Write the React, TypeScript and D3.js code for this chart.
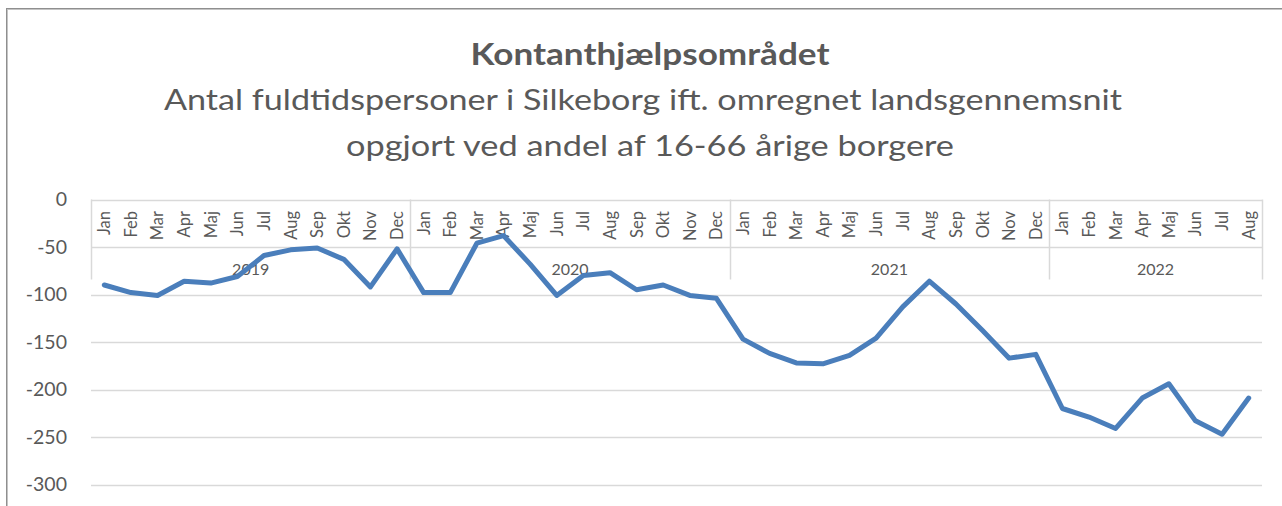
import React from "react";
import * as d3 from "d3";

const monthLabels = ["Jan", "Feb", "Mar", "Apr", "Maj", "Jun", "Jul", "Aug", "Sep", "Okt", "Nov", "Dec"];
const years = ["2019", "2020", "2021", "2022"];
const monthsPerYear = [12, 12, 12, 8];

const values2019 = [-90, -98, -101, -86, -88, -81, -59, -53, -51, -63, -92, -52];
const values2020 = [-98, -98, -46, -38, -68, -101, -80, -77, -95, -90, -101, -104];
const values2021 = [-147, -162, -172, -173, -164, -146, -113, -86, -110, -138, -167, -163];
const values2022 = [-220, -229, -241, -209, -194, -233, -247, -209];

const yTicks = [0, -50, -100, -150, -200, -250, -300];

const title = "Kontanthjælpsområdet";
const subtitle1 = "Antal fuldtidspersoner i Silkeborg ift. omregnet landsgennemsnit";
const subtitle2 = "opgjort ved andel af 16-66 årige borgere";

type Pt = { key: string; month: string; year: string; value: number };

const seriesByYear = [values2019, values2020, values2021, values2022];
const points: Pt[] = [];
years.forEach((yr, yi) => {
  for (let m = 0; m < monthsPerYear[yi]; m++) {
    points.push({ key: `${yr}-${m}`, month: monthLabels[m], year: yr, value: seriesByYear[yi][m] });
  }
});

const FONT = "Lato, 'Open Sans', 'Liberation Sans', sans-serif";
const TXT = "#595959";
const GRID = "#d9d9d9";

export default function App() {
  const W = 1282;
  const H = 506;
  const left = 91;
  const right = 1262;
  const top = 199.5;
  const bottom = 484.5;

  const x = d3
    .scaleBand<string>()
    .domain(points.map((p) => p.key))
    .range([left, right])
    .paddingInner(0)
    .paddingOuter(0);
  const y = d3.scaleLinear().domain([0, -300]).range([top, bottom]);

  const cx = (k: string) => (x(k) as number) + x.bandwidth() / 2;

  const line = d3
    .line<Pt>()
    .x((p) => cx(p.key))
    .y((p) => y(p.value));

  const boundaries: number[] = [];
  let idx = 0;
  const yearCenters: { year: string; c: number }[] = [];
  years.forEach((yr, yi) => {
    const startKey = points[idx].key;
    const endKey = points[idx + monthsPerYear[yi] - 1].key;
    const x0 = x(startKey) as number;
    const x1 = (x(endKey) as number) + x.bandwidth();
    boundaries.push(x0);
    if (yi === years.length - 1) boundaries.push(x1);
    yearCenters.push({ year: yr, c: (x0 + x1) / 2 });
    idx += monthsPerYear[yi];
  });

  const axisBottom = 279.5;
  const monthTop = 211;

  return (
    <svg
      width={W}
      height={H}
      style={{ position: "absolute", left: 0, top: 0, background: "#fff" }}
      fontFamily={FONT}
    >
      {/* frame */}
      <line x1={6} x2={W} y1={8.5} y2={8.5} stroke="#8f8f8f" strokeWidth={1} />
      <line x1={6} x2={W} y1={9.5} y2={9.5} stroke="#c4c4c4" strokeWidth={1} />
      <line x1={6.5} x2={6.5} y1={8} y2={H} stroke="#8f8f8f" strokeWidth={1} />
      <line x1={7.5} x2={7.5} y1={9} y2={H} stroke="#c4c4c4" strokeWidth={1} />

      {/* titles */}
      <text x={650} y={65} textAnchor="middle" fontSize={30} fontWeight={700} fill={TXT} textLength={359} lengthAdjust="spacingAndGlyphs">
        {title}
      </text>
      <text x={643} y={110} textAnchor="middle" fontSize={29.5} fill={TXT} textLength={958} lengthAdjust="spacingAndGlyphs">
        {subtitle1}
      </text>
      <text x={650} y={156} textAnchor="middle" fontSize={29.5} fill={TXT} textLength={608} lengthAdjust="spacingAndGlyphs">
        {subtitle2}
      </text>

      {/* gridlines */}
      {yTicks.map((t) => (
        <line key={t} x1={left} x2={right} y1={Math.round(y(t)) + 0.5} y2={Math.round(y(t)) + 0.5} stroke={GRID} strokeWidth={1.5} />
      ))}

      {/* category axis boxes */}
      {boundaries.map((b, i) => (
        <line key={i} x1={Math.round(b) + 0.5} x2={Math.round(b) + 0.5} y1={y(0)} y2={axisBottom} stroke={GRID} strokeWidth={1.5} />
      ))}

      {/* y tick labels */}
      {yTicks.map((t) => (
        <text key={t} x={67} y={y(t)} dy="0.35em" textAnchor="end" fontSize={19.5} fill={TXT}>
          {t}
        </text>
      ))}

      {/* month labels */}
      {points.map((p) => (
        <text
          key={p.key}
          transform={`translate(${cx(p.key)},${monthTop}) rotate(-90)`}
          dy="0.36em"
          textAnchor="end"
          fontSize={16.5}
          fill={TXT}
        >
          {p.month}
        </text>
      ))}

      {/* year labels */}
      {yearCenters.map((yc) => (
        <text key={yc.year} x={yc.c} y={275} textAnchor="middle" fontSize={16} fill={TXT}>
          {yc.year}
        </text>
      ))}

      {/* series */}
      <path d={line(points) || ""} fill="none" stroke="#4a7ebb" strokeWidth={5} strokeLinejoin="round" strokeLinecap="round" />
    </svg>
  );
}
